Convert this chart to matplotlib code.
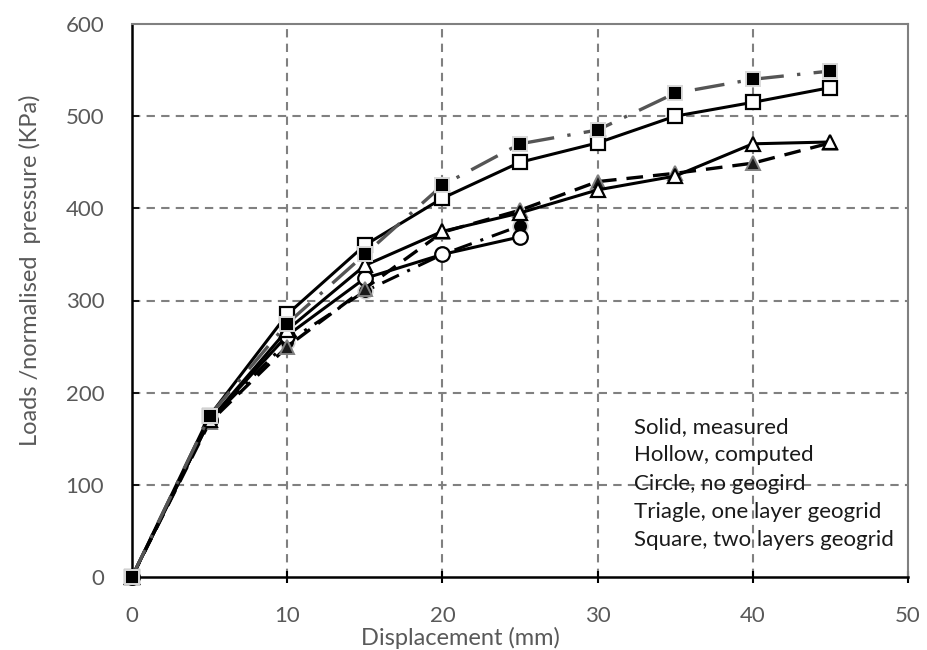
import matplotlib
matplotlib.use("Agg")
import matplotlib.pyplot as plt

# Data
x_full = [0, 5, 10, 15, 20, 25, 30, 35, 40, 45]
x_short = [0, 5, 10, 15, 20, 25]

meas_two = [0, 175, 275, 350, 425, 470, 485, 525, 540, 549]
comp_two = [0, 175, 285, 360, 411, 450, 471, 500, 515, 531]
meas_one = [0, 168, 250, 313, 374, 398, 429, 438, 449, 471]
comp_one = [0, 170, 268, 338, 375, 395, 420, 435, 470, 472]
meas_none = [0, 170, 255, 310, 350, 381]
comp_none = [0, 170, 262, 324, 350, 369]

legend_lines = ["Solid, measured", "Hollow, computed", "Circle, no geogird",
                "Triagle, one layer geogrid", "Square, two layers geogrid"]

plt.rcParams['font.family'] = ['Lato', 'DejaVu Sans']

fig = plt.figure(figsize=(9.27, 6.5), dpi=100)
ax = fig.add_axes([132/927, 1-577/650, (908-132)/927, (577-24)/650])

ms = 10.5
# no geogrid
ax.plot(x_short, meas_none, color='black', lw=2.2, ls=(0, (6, 3, 1, 3)),
        marker='o', ms=ms, mfc='black', mec='#d0d0d0', mew=1.2, zorder=3, clip_on=False)
ax.plot(x_short, comp_none, color='black', lw=2.2, ls='-',
        marker='o', ms=ms, mfc='white', mec='black', mew=1.6, zorder=3, clip_on=False)
# one layer
ax.plot(x_full, meas_one, color='black', lw=2.4, ls=(0, (5, 3)),
        marker='^', ms=ms, mfc='#1a1a1a', mec='#808080', mew=1.4, zorder=4, clip_on=False)
ax.plot(x_full, comp_one, color='black', lw=2.2, ls='-',
        marker='^', ms=ms, mfc='white', mec='black', mew=1.6, zorder=4, clip_on=False)
# two layers
ax.plot(x_full, comp_two, color='black', lw=2.2, ls='-',
        marker='s', ms=ms, mfc='white', mec='black', mew=1.6, zorder=5, clip_on=False)
ax.plot(x_full, meas_two, color='#555555', lw=2.4, ls=(0, (9, 4, 1, 4)),
        marker='s', ms=ms, mfc='black', mec='#d9d9d9', mew=1.4, zorder=6, clip_on=False)

ax.set_xlim(0, 50)
ax.set_ylim(0, 600)
ax.set_xticks(range(0, 51, 10))
ax.set_yticks(range(0, 601, 100))

for v in range(10, 50, 10):
    ax.axvline(v, color='#808080', ls=(0, (4, 3)), lw=1.5, zorder=1)
for v in range(100, 600, 100):
    ax.axhline(v, color='#808080', ls=(0, (4, 3)), lw=1.5, zorder=1)

ax.spines['top'].set_color('#808080')
ax.spines['top'].set_linewidth(1.5)
ax.spines['right'].set_color('#808080')
ax.spines['right'].set_linewidth(1.5)
ax.spines['left'].set_linewidth(1.8)
ax.spines['bottom'].set_linewidth(1.8)
for s in ax.spines.values():
    s.set_zorder(2)

ax.tick_params(axis='x', direction='inout', length=8, width=1.5, colors='black',
               labelcolor='#595959', labelsize=16, pad=17)
ax.tick_params(axis='y', direction='in', length=5, width=1.2, colors='black',
               labelcolor='#595959', labelsize=16, pad=20)

fig.text(460/927, 1-638/650, "Displacement (mm)", ha='center', va='center',
         fontsize=17, color='#595959')
fig.text(30/927, 1-270/650, "Loads /normalised  pressure (KPa)", ha='center',
         va='center', rotation=90, fontsize=17, color='#595959')

for i, t in enumerate(legend_lines):
    fig.text(634/927, 1-(427 + i*28.3)/650, t, ha='left', va='center',
             fontsize=16, color='#1a1a1a')

fig.savefig("out.png", dpi=100)
